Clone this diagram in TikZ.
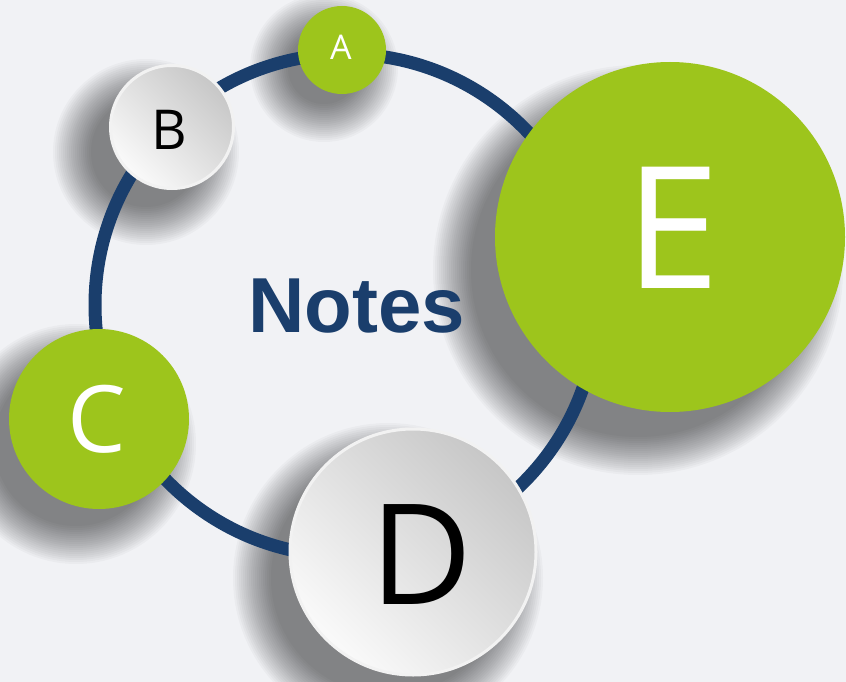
\documentclass[tikz,border=0pt]{standalone}
\usepackage{fontspec}
\setmainfont{Open Sans}
\newfontfamily\titlefont{Liberation Sans}

\definecolor{leaf}{RGB}{157,197,28}
\definecolor{navy}{RGB}{26,62,108}
\definecolor{paper}{RGB}{241,242,245}

\begin{document}
\begin{tikzpicture}[x=1pt,y=-1pt,
ring/.style={line width=13pt,draw=navy},
dot/.style={circle,inner sep=0pt},
leafdot/.style={dot,fill=leaf},
pearl/.style={dot,draw=black!5,line width=3pt,
	top color=black!22,bottom color=black!2,shading angle=-45},
letter/.style={inner sep=0pt,text=white},
haze/.style={fill=black,opacity=0.028}
]
\fill[paper] (0,0) rectangle (846,682);
\useasboundingbox (0,0) rectangle (846,682);

% soft shadows, down and to the left of each disc
\foreach \sx/\sy/\sr in {324/68/44, 146/152/63, 76/444/90, 388/578/125, 638/270/175}
	\foreach \k in {1,...,20}
		\fill[haze] (\sx,\sy) circle ({(\sr+32-2*\k)*1pt});

\coordinate (ctr) at (346,305);
\draw[ring] (ctr) circle (251pt);

\node[leafdot,minimum size=88pt] (A) at (342,50) {};
\node[pearl,minimum size=123pt] (B) at (172,127) {};
\node[leafdot,minimum size=180pt] (C) at (99,419) {};
\node[pearl,minimum size=246pt] (D) at (413,552) {};
\node[leafdot,minimum size=350pt] (E) at (670,237) {};

\node[letter,font=\fontsize{34}{34}\selectfont] (At) at ([xshift=-1pt,yshift=3pt]A) {A};
\node[letter,text=black,font=\fontsize{55}{55}\selectfont] (Bt) at ([xshift=-3pt,yshift=-3pt]B) {B};
\node[letter,font=\fontsize{93}{93}\selectfont] (Ct) at ([xshift=-2pt]C) {C};
\node[letter,text=black,font=\fontsize{140}{140}\selectfont] (Dt) at ([xshift=9pt,yshift=-3pt]D) {D};
\node[letter,font=\fontsize{170}{170}\selectfont] (Et) at ([xshift=3pt,yshift=9pt]E) {E};

\node[text=navy,inner sep=0pt,font=\titlefont\bfseries\fontsize{78}{78}\selectfont] (notes) at (357,306) {Notes};
\end{tikzpicture}
\end{document}
